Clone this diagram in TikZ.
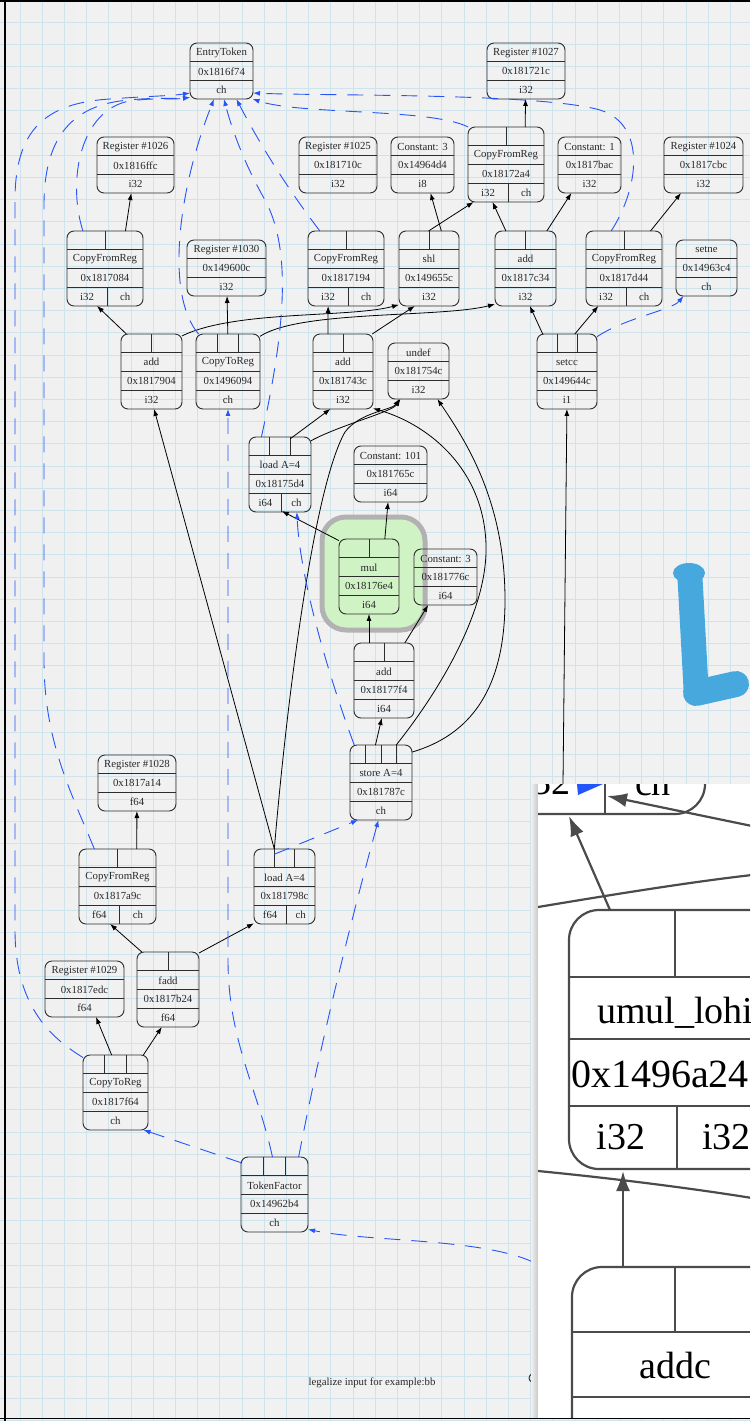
\documentclass[tikz,border=0pt]{standalone}
\usepackage{fontspec}
\setmainfont{Liberation Serif}
\usetikzlibrary{arrows.meta,calc}
\definecolor{bg}{RGB}{241,241,241}
\definecolor{gridc}{RGB}{206,227,235}
\definecolor{nodeline}{RGB}{45,45,45}
\definecolor{txtc}{RGB}{40,40,40}
\definecolor{chblue}{RGB}{35,85,250}
\definecolor{hlgreen}{RGB}{208,243,197}
\definecolor{hlgray}{RGB}{178,178,178}
\definecolor{lblue}{RGB}{70,168,221}
\definecolor{insetline}{RGB}{75,75,75}

\tikzset{
  recbox/.style={draw=nodeline, line width=0.9pt, rounded corners=7pt, inner sep=0pt, outer sep=0pt, anchor=north west},
  rowline/.style={draw=nodeline, line width=0.9pt},
  pcell/.style={inner sep=0pt, outer sep=0pt, shape=rectangle},
  rtxt/.style={font=\fontsize{10.8}{12}\selectfont, text=txtc, inner sep=0pt},
  dep/.style={draw=black, line width=0.8pt, -{Latex[length=7pt,width=5pt]}},
  chn/.style={draw=chblue, line width=0.9pt, dash pattern=on 16pt off 11pt, -{Latex[length=7pt,width=5pt]}},
  ibox/.style={draw=insetline, line width=2.2pt, rounded corners=30pt, inner sep=0pt, outer sep=0pt},
  iline/.style={draw=insetline, line width=2.2pt},
  iarrow/.style={draw=insetline, line width=2.2pt, -{Latex[length=20pt,width=14pt]}},
  itxt/.style={font=\fontsize{38}{40}\selectfont, text=black, inner sep=0pt},
}

% leaf record: name, x-left, y-top, x-right, title, address, type
\newcommand\leaf[7]{%
  \pgfmathsetmacro\rW{#4-#2}%
  \pgfmathsetmacro\rX{(#2+#4)/2}%
  \node[recbox, minimum width=\rW pt, minimum height=56pt] (#1) at (#2,#3) {};
  \draw[rowline] (#2,#3+18.67) -- (#4,#3+18.67) (#2,#3+37.33) -- (#4,#3+37.33);
  \node[rtxt] at (\rX,#3+9.6) {#5};
  \node[rtxt] at (\rX,#3+28.3) {#6};
  \node[rtxt] at (\rX,#3+47) {#7};
}

% operation record: name, x-left, y-top, x-right, operand count, title, address, type, second type
\newcommand\opn[9]{%
  \pgfmathsetmacro\rW{#4-#2}%
  \pgfmathsetmacro\rX{(#2+#4)/2}%
  \pgfmathsetmacro\rP{\rW/#5}%
  \pgfmathtruncatemacro\rN{#5-1}%
  \node[recbox, minimum width=\rW pt, minimum height=75pt] (#1) at (#2,#3) {};
  \draw[rowline] (#2,#3+18.75) -- (#4,#3+18.75) (#2,#3+37.5) -- (#4,#3+37.5) (#2,#3+56.25) -- (#4,#3+56.25);
  \foreach \k in {0,...,\rN}{%
    \node[pcell, minimum width=\rP pt, minimum height=18.75pt] (#1-p\k) at ({#2+(\k+0.5)*\rP},#3+9.375) {};
    \ifnum\k>0 \draw[rowline] ({#2+\k*\rP},#3) -- ({#2+\k*\rP},#3+18.75);\fi
  }
  \node[rtxt] at (\rX,#3+28.3) {#6};
  \node[rtxt] at (\rX,#3+47) {#7};
  \if\relax\detokenize{#9}\relax
    \node[pcell, minimum width=\rW pt, minimum height=18.75pt] (#1-t) at (\rX,#3+65.6) {};
    \node[rtxt] at (\rX,#3+65.8) {#8};
  \else
    \pgfmathsetmacro\rD{#2+0.53*\rW}%
    \draw[rowline] (\rD,#3+56.25) -- (\rD,#3+75);
    \node[pcell, minimum width={\rD-#2}, minimum height=18.75pt] (#1-t0) at ({(#2+\rD)/2},#3+65.6) {};
    \node[pcell, minimum width={#4-\rD}, minimum height=18.75pt] (#1-t1) at ({(\rD+#4)/2},#3+65.6) {};
    \node[rtxt] at ({(#2+\rD)/2},#3+65.8) {#8};
    \node[rtxt] at ({(\rD+#4)/2},#3+65.8) {#9};
  \fi
}

\begin{document}
\begin{tikzpicture}[x=1pt,y=-1pt]
\useasboundingbox (0,0) rectangle (750,1421);
\fill[bg] (0,0) rectangle (750,1421);
\shade[left color=black!6, right color=bg] (0,0) rectangle (120,1421);

% squared paper
\foreach \i in {0,...,33} \draw[gridc, line width=0.9pt] ({20+22.2*\i},0) -- ({20+22.2*\i},1421);
\foreach \j in {0,...,63} \draw[gridc, line width=0.9pt] (0,{22+22.2*\j}) -- (750,{22+22.2*\j});

% hand-drawn blue stroke
\draw[lblue, line width=25pt, line cap=round] (690,578) -- (696,688);
\draw[lblue, line width=26pt, line cap=round] (696,693) -- (736,684);
\fill[lblue] (689,573) ellipse [x radius=16, y radius=10];

% highlighted node background
\node[draw=hlgray, line width=5pt, fill=hlgreen, rounded corners=24pt, minimum width=103pt, minimum height=113pt, inner sep=0pt, anchor=north west] (hl) at (319.5,514.5) {};

% ---- records ----
\leaf{et}{190}{43}{253}{EntryToken}{0x1816f74}{ch}
\leaf{r1027}{487}{43}{565}{Register \#1027}{0x181721c}{i32}
\leaf{r1026}{97}{137}{174}{Register \#1026}{0x1816ffc}{i32}
\leaf{r1025}{299}{137}{377}{Register \#1025}{0x181710c}{i32}
\leaf{c3a}{391}{137}{454}{Constant: 3}{0x14964d4}{i8}
\leaf{c1}{558}{137}{621}{Constant: 1}{0x1817bac}{i32}
\leaf{r1024}{664}{137}{743}{Register \#1024}{0x1817cbc}{i32}
\leaf{r1030}{187}{240}{266}{Register \#1030}{0x149600c}{i32}
\leaf{setne}{676}{240}{737}{setne}{0x14963c4}{ch}
\leaf{undef}{388}{343}{449}{undef}{0x181754c}{i32}
\leaf{c101}{354}{446}{427}{Constant: 101}{0x181765c}{i64}
\leaf{c3b}{414}{549}{477}{Constant: 3}{0x181776c}{i64}
\leaf{r1028}{98}{755}{176}{Register \#1028}{0x1817a14}{f64}
\leaf{r1029}{45}{961}{124}{Register \#1029}{0x1817edc}{f64}

\opn{cfr2a4}{468}{127}{544}{2}{CopyFromReg}{0x18172a4}{i32}{ch}
\opn{cfr084}{67}{231}{143}{2}{CopyFromReg}{0x1817084}{i32}{ch}
\opn{cfr194}{308}{231}{384}{2}{CopyFromReg}{0x1817194}{i32}{ch}
\opn{shl}{399}{231}{459}{2}{shl}{0x149655c}{i32}{}
\opn{add34}{495}{231}{556}{2}{add}{0x1817c34}{i32}{}
\opn{cfrd44}{586}{231}{662}{2}{CopyFromReg}{0x1817d44}{i32}{ch}
\opn{add904}{121}{334}{182}{2}{add}{0x1817904}{i32}{}
\opn{ctr094}{196}{334}{260}{3}{CopyToReg}{0x1496094}{ch}{}
\opn{add43c}{313}{334}{373}{2}{add}{0x181743c}{i32}{}
\opn{setcc}{537}{334}{597}{3}{setcc}{0x149644c}{i1}{}
\opn{ld5d4}{249}{437}{311}{3}{load A=4}{0x18175d4}{i64}{ch}
\opn{mul}{339}{539}{399}{2}{mul}{0x18176e4}{i64}{}
\opn{add7f4}{354}{643}{414}{2}{add}{0x18177f4}{i64}{}
\opn{st}{350}{745}{412}{4}{store A=4}{0x181787c}{ch}{}
\opn{cfra9c}{79}{849}{156}{2}{CopyFromReg}{0x1817a9c}{f64}{ch}
\opn{ld98c}{254}{849}{315}{3}{load A=4}{0x181798c}{f64}{ch}
\opn{fadd}{137}{952}{199}{2}{fadd}{0x1817b24}{f64}{}
\opn{ctrf64}{83}{1055}{148}{3}{CopyToReg}{0x1817f64}{ch}{}
\opn{tf}{241}{1157}{308}{3}{TokenFactor}{0x14962b4}{ch}{}

% records partly hidden behind the enlarged view
\node[recbox, minimum width=60pt, minimum height=72pt] (hid1) at (533,1262) {};
\draw[rowline] (533,1280) -- (560,1280) (533,1298) -- (560,1298) (533,1317) -- (560,1317);
\draw[rowline] (560,1378) ellipse [x radius=31, y radius=10];
\coordinate (below) at (563,784);

% ---- value edges ----
\draw[dep] (cfr084-p1) -- (r1026);
\draw[dep] (add904-p0) -- (cfr084-t0);
\draw[dep] (add904-p1) .. controls (235,310) and (350,318) .. (shl-t);
\draw[dep] (ctr094-p1) -- (r1030);
\draw[dep] (ctr094-p2) .. controls (300,310) and (440,318) .. (add34-t);
\draw[dep] (add43c-p0) -- (cfr194-t0);
\draw[dep] (add43c-p1) -- (shl-t);
\draw[dep] (shl-p0) -- (cfr2a4-t0);
\draw[dep] (shl-p1) -- (c3a);
\draw[dep] (add34-p0) -- (cfr2a4-t0);
\draw[dep] (add34-p1) -- (c1);
\draw[dep] (cfr2a4-p1) -- (r1027);
\draw[dep] (cfrd44-p1) -- (r1024);
\draw[dep] (setcc-p0) -- (add34-t);
\draw[dep] (setcc-p1) -- (cfrd44-t0);
\draw[dep] (below) -- (setcc-t);
\draw[dep] (ld5d4-p1) -- (add43c-t);
\draw[dep] (ld5d4-p2) .. controls (340,425) and (392,412) .. (undef);
\draw[dep] (mul-p0) -- (ld5d4-t0);
\draw[dep] (mul-p1) -- (c101);
\draw[dep] (add7f4-p0) -- (mul-t);
\draw[dep] (add7f4-p1) -- (c3b);
\draw[dep] (st-p1) -- (add7f4-t);
\draw[dep] (st-p2) .. controls (440,690) and (488,610) .. (486,545) .. controls (484,470) and (430,425) .. (add43c-t);
\draw[dep] (st-p3) .. controls (470,735) and (505,690) .. (505,600) .. controls (505,500) and (465,440) .. (undef);
\draw[dep] (ld98c-p1.north west) -- (add904-t);
\draw[dep] (ld98c-p1.north west) .. controls (285,720) and (312,490) .. (345,432) .. controls (360,412) and (392,410) .. (undef);
\draw[dep] (cfra9c-p1) -- (r1028);
\draw[dep] (fadd-p0) -- (cfra9c-t0);
\draw[dep] (fadd-p1) -- (ld98c-t0);
\draw[dep] (ctrf64-p1) -- (r1029);
\draw[dep] (ctrf64-p2) -- (fadd-t);

% ---- chain edges ----
\draw[chn] (cfr084-p0) .. controls (68,185) and (78,115) .. (125,102) .. controls (150,97) and (172,100) .. (et.-140);
\draw[chn] (ctr094-p0) .. controls (165,295) and (178,190) .. (et.-105);
\draw[chn] (ld5d4-p0) .. controls (285,330) and (292,250) .. (265,200) .. controls (245,165) and (232,130) .. (et.-85);
\draw[chn] (cfr194-p0) .. controls (300,205) and (268,160) .. (et.-62);
\draw[chn] (cfr2a4-p0) .. controls (430,108) and (300,115) .. (et.-42);
\draw[chn] (cfrd44-p0) .. controls (638,190) and (648,125) .. (600,110) .. controls (540,93) and (330,96) .. (et.-35);
\draw[chn] (ctrf64-p0) .. controls (55,1040) and (15,1010) .. (15,930) -- (15,200) .. controls (15,130) and (45,103) .. (110,99) .. controls (150,96) and (170,96) .. (et.-145);
\draw[chn] (cfra9c-p0) .. controls (70,790) and (44,740) .. (44,660) -- (44,205) .. controls (44,140) and (70,108) .. (120,101) .. controls (150,97) and (172,99) .. (et.-140);
\draw[chn] (st-p0) .. controls (330,680) and (300,580) .. (ld5d4-t1);
\draw[chn] (ld98c-p0) -- (st-t);
\draw[chn] (tf-p0) -- (ctrf64-t);
\draw[chn] (tf-p1) .. controls (258,1090) and (228,1040) .. (228,960) -- (ctr094-t);
\draw[chn] (tf-p2) .. controls (325,1020) and (362,880) .. (st-t);
\draw[chn] (hid1.north west) .. controls (480,1238) and (370,1242) .. (tf-t);
\draw[chn] (setcc-p2) .. controls (625,318) and (672,310) .. (setne);

\node[font=\fontsize{10.8}{12}\selectfont, text=txtc, inner sep=0pt] (lbl) at (372,1383) {legalize input for example:bb};

% ---- enlarged view ----
\shade[left color=bg, right color=black!22] (531,784) rectangle (538,1418);
\begin{scope}
  \clip (538,784) rectangle (750,1418);
  \fill[white] (538,784) rectangle (750,1421);
  % partial record at the top
  \node[ibox, minimum width=300pt, minimum height=100pt, anchor=south east] (topn) at (705,814) {};
  \draw[iline] (605,700) -- (605,814);
  \node[itxt] at (546,782) {i32};
  \node[itxt] at (653,782) {ch};
  \fill[chblue] (577,784) -- (603,784) -- (578,795) -- cycle;
  % umul_lohi record
  \node[ibox, minimum width=211pt, minimum height=259pt, anchor=north west] (umul) at (569,910) {};
  \draw[iline] (569,977) -- (750,977) (569,1039) -- (750,1039) (569,1106) -- (750,1106);
  \draw[iline] (675,910) -- (675,977) (677,1106) -- (677,1169);
  \node[itxt, anchor=west] at (597,1013) {umul\_lohi};
  \node[itxt, anchor=west, font=\fontsize{40}{42}\selectfont] at (571,1074) {0x1496a24};
  \node[itxt] at (621,1137) {i32};
  \node[itxt, anchor=west] at (702,1137) {i32};
  % addc record
  \node[ibox, minimum width=206pt, minimum height=200pt, anchor=north west] (addc) at (572,1267) {};
  \draw[iline] (572,1332) -- (750,1332) (572,1397) -- (750,1397) (675,1267) -- (675,1332);
  \node[itxt] at (675,1365) {addc};
  % connectors of the enlarged view
  \coordinate (u1) at (610,910);
  \coordinate (t1) at (569,816);
  \coordinate (r1) at (752,826);
  \coordinate (t2) at (607,796);
  \coordinate (a1) at (623,1267);
  \coordinate (u2) at (623,1171);
  \coordinate (la) at (538,907);
  \coordinate (ra) at (752,875);
  \coordinate (lb) at (538,1171);
  \coordinate (rb) at (752,1198);
  \draw[iarrow] (u1) -- (t1);
  \draw[iarrow] (r1) -- (t2);
  \draw[iarrow] (a1) -- (u2);
  \draw[iline] (la) .. controls (610,895) and (690,882) .. (ra);
  \draw[iline] (lb) .. controls (610,1178) and (690,1188) .. (rb);
\end{scope}

% page frame
\draw[black, line width=1.6pt] (4.7,0) -- (4.7,1421);
\draw[black, line width=1.4pt] (0,1.2) -- (750,1.2);
\draw[black, line width=1.6pt] (0,1418.5) -- (750,1418.5);
\end{tikzpicture}
\end{document}
